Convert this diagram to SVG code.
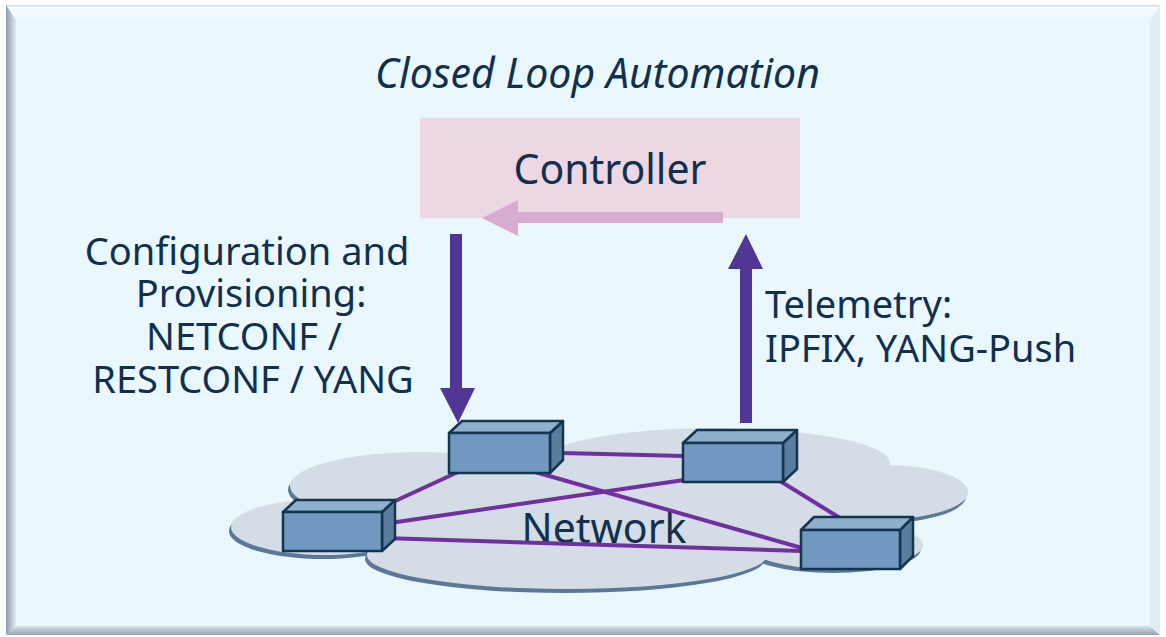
<svg xmlns="http://www.w3.org/2000/svg" width="1166" height="637" viewBox="0 0 1166 637">
  <defs>
    <linearGradient id="gLeft" x1="0" y1="0" x2="1" y2="0">
      <stop offset="0" stop-color="#8E9DAA"/>
      <stop offset="1" stop-color="#DCEAF2"/>
    </linearGradient>
    <linearGradient id="gTop" x1="0" y1="0" x2="0" y2="1">
      <stop offset="0" stop-color="#C9D3DA"/>
      <stop offset="0.15" stop-color="#F6FCFF"/>
      <stop offset="1" stop-color="#EEF9FE"/>
    </linearGradient>
    <linearGradient id="gBottom" x1="0" y1="0" x2="0" y2="1">
      <stop offset="0" stop-color="#D5E1EA"/>
      <stop offset="1" stop-color="#95A3AF"/>
    </linearGradient>
    <g id="cloudShape">
      <ellipse cx="325" cy="527" rx="94" ry="28"/>
      <ellipse cx="420" cy="486" rx="130" ry="34"/>
      <ellipse cx="567" cy="555" rx="200" ry="34"/>
      <ellipse cx="715" cy="463" rx="175" ry="35"/>
      <ellipse cx="885" cy="492" rx="83" ry="27"/>
      <ellipse cx="835" cy="545" rx="88" ry="24"/>
      <ellipse cx="600" cy="510" rx="260" ry="50"/>
    </g>
  </defs>
  <style>
    .txt { font-family: "Noto Sans", "Open Sans", "DejaVu Sans", sans-serif; fill: #10304D; }
    .front { fill: #7098C1; stroke: #143550; stroke-width: 2.5; stroke-linejoin: round; }
    .top { fill: #8EB0CF; stroke: #143550; stroke-width: 2.5; stroke-linejoin: round; }
    .side { fill: #5A7D9E; stroke: #143550; stroke-width: 2.5; stroke-linejoin: round; }
    .link { stroke: #7030A0; stroke-width: 4; fill: none; }
    .arrow { fill: #503794; }
  </style>

  <rect width="1166" height="637" fill="#FFFFFF"/>
  <!-- frame -->
  <g id="frame">
    <rect x="6" y="5" width="1154" height="630" fill="#EAF8FE"/>
    <polygon points="6,5 1160,5 1150,20 16,20" fill="url(#gTop)"/>
    <polygon points="6,5 16,20 16,626 6,635" fill="url(#gLeft)"/>
    <polygon points="6,635 16,626 1150,626 1160,635" fill="url(#gBottom)"/>
    <polygon points="1160,5 1150,20 1150,626 1160,635" fill="#E2EEF5"/>
    <rect x="16" y="20" width="1134" height="606" fill="#EAF8FE"/>
  </g>

  <text class="txt" x="375" y="88" font-size="41" font-style="italic" textLength="445" lengthAdjust="spacing">Closed Loop Automation</text>

  <!-- controller -->
  <g id="controller">
    <rect x="420" y="118" width="380" height="100" fill="#EDD7E3"/>
    <text class="txt" x="610" y="184" font-size="41" text-anchor="middle">Controller</text>
  </g>

  <!-- cloud -->
  <g id="cloud">
    <use href="#cloudShape" transform="translate(-2,4)" fill="#5C7898"/>
    <use href="#cloudShape" fill="#D4DCE5"/>
    <text class="txt" x="604" y="543" font-size="41" text-anchor="middle">Network</text>
  </g>

  <!-- connectors -->
  <g id="connectors">
    <polygon points="723,212 518,212 518,200 482,218 518,236 518,223 723,223" fill="#D8ACD0"/>
    <polygon class="arrow" points="450,234 462,234 462,388 475,388 458,423 440,388 450,388"/>
    <polygon class="arrow" points="740,423 752,423 752,269 763,269 746,234 728,269 740,269"/>
    <line class="link" x1="458" y1="472" x2="393" y2="502"/>
    <line class="link" x1="562" y1="453" x2="684" y2="456"/>
    <line class="link" x1="535" y1="472" x2="802" y2="548"/>
    <line class="link" x1="383" y1="524" x2="684" y2="480"/>
    <line class="link" x1="383" y1="538" x2="802" y2="551"/>
    <line class="link" x1="780" y1="481" x2="840" y2="518"/>
  </g>

  <!-- switches -->
  <g id="switchA">
    <polygon class="side" points="550,433 563,421 563,460 550,473"/>
    <polygon class="top" points="449,433 462,421 563,421 550,433"/>
    <rect class="front" x="449" y="433" width="101" height="40"/>
  </g>
  <g id="switchB">
    <polygon class="side" points="382,512 395,500 395,539 382,551"/>
    <polygon class="top" points="283,512 296,500 395,500 382,512"/>
    <rect class="front" x="283" y="512" width="99" height="39"/>
  </g>
  <g id="switchC">
    <polygon class="side" points="783,443 797,430 797,469 783,482"/>
    <polygon class="top" points="683,443 697,430 797,430 783,443"/>
    <rect class="front" x="683" y="443" width="100" height="39"/>
  </g>
  <g id="switchD">
    <polygon class="side" points="900,530 913,517 913,556 900,569"/>
    <polygon class="top" points="801,530 814,517 913,517 900,530"/>
    <rect class="front" x="801" y="530" width="99" height="39"/>
  </g>

  <!-- labels -->
  <g id="configLabel">
    <text class="txt" font-size="38" text-anchor="middle">
      <tspan x="252" y="265">Configuration and</tspan>
      <tspan x="256" y="307">Provisioning:</tspan>
      <tspan x="249" y="350">NETCONF /</tspan>
      <tspan x="253" y="393">RESTCONF / YANG</tspan>
    </text>
  </g>
  <g id="telemetryLabel">
    <text class="txt" font-size="38">
      <tspan x="765" y="318">Telemetry:</tspan>
      <tspan x="765" y="362">IPFIX, YANG-Push</tspan>
    </text>
  </g>
</svg>
